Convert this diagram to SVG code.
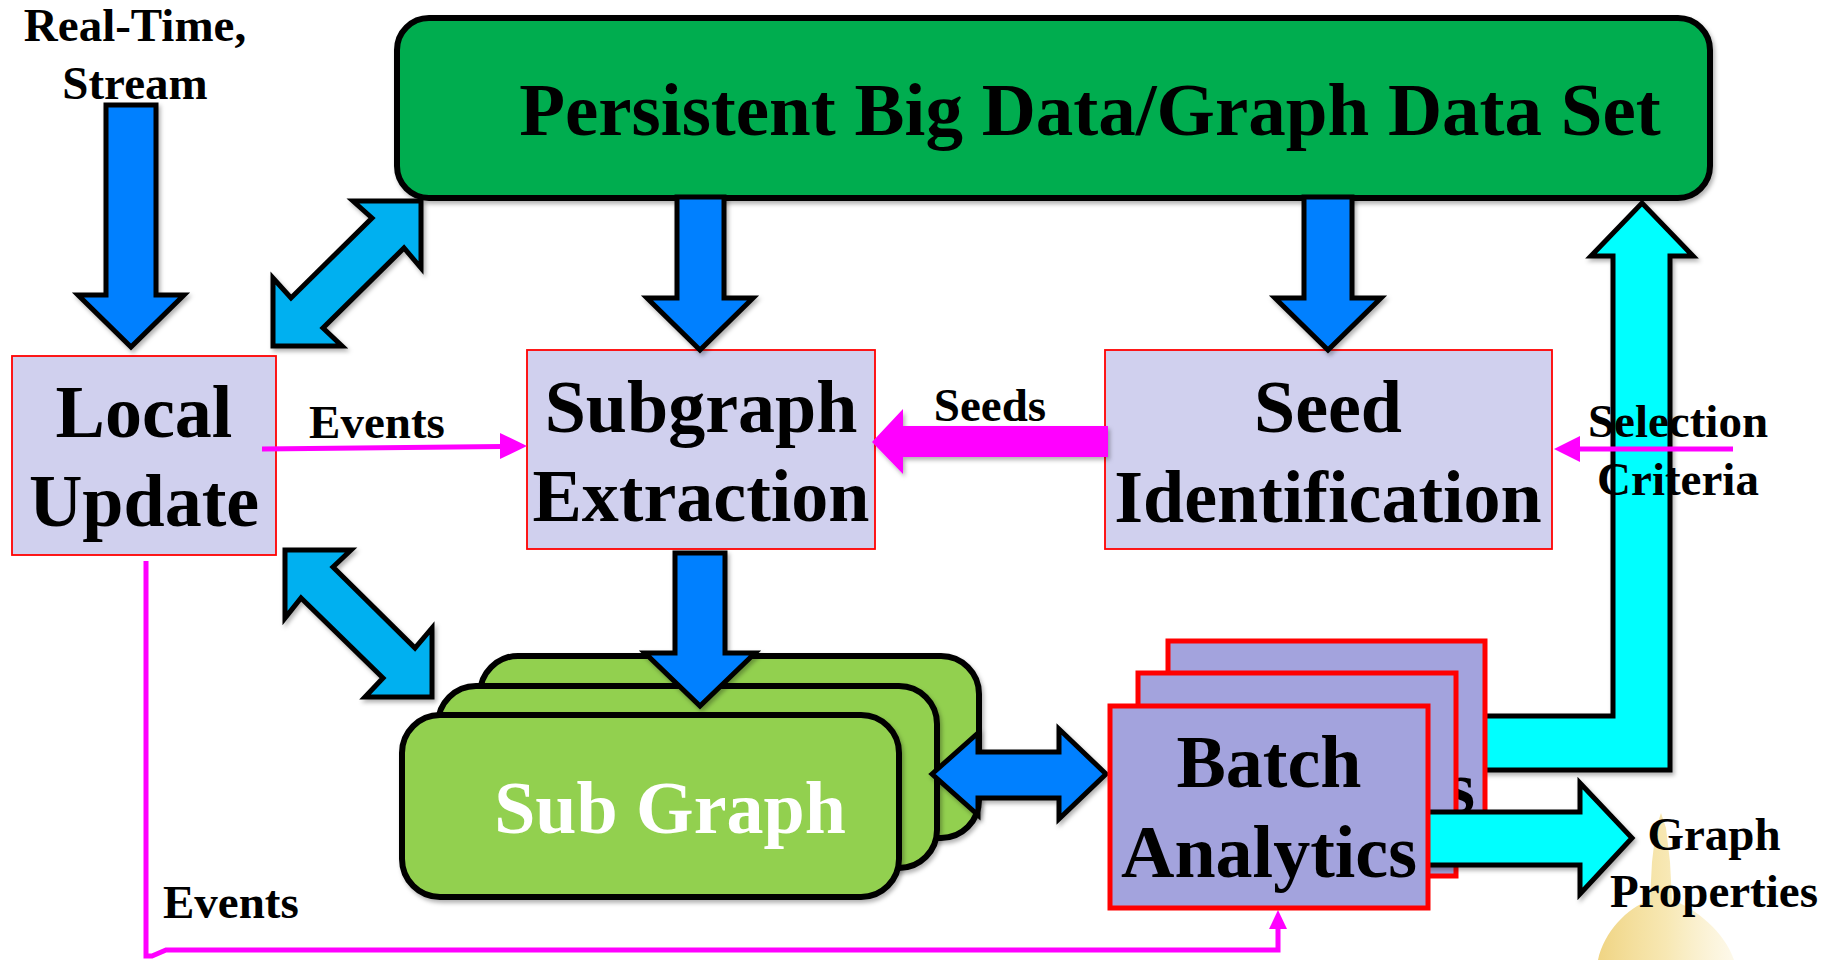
<svg xmlns="http://www.w3.org/2000/svg" width="1825" height="960" viewBox="0 0 1825 960">
<defs>
<filter id="sh" x="-10%" y="-10%" width="130%" height="130%">
<feDropShadow dx="2" dy="3" stdDeviation="2" flood-color="#000" flood-opacity="0.3"/>
</filter>
<linearGradient id="gold" x1="0" y1="0" x2="1" y2="0">
<stop offset="0" stop-color="#E9C24E" stop-opacity="0.7"/>
<stop offset="0.5" stop-color="#F2D880" stop-opacity="0.6"/>
<stop offset="1" stop-color="#FBF1D0" stop-opacity="0.45"/>
</linearGradient>
<clipPath id="backclip">
<rect x="1428" y="641" width="60" height="170"/>
</clipPath>
</defs>
<style>
text{font-family:"Liberation Serif","Times New Roman",serif;font-weight:bold;fill:#000}
.big{font-size:74px;text-anchor:middle}
.sm{font-size:47px}
.mid{text-anchor:middle}
.lav{fill:#D0D0EE;stroke:#FF0000;stroke-width:1.8}
.bat{fill:#A3A3DD;stroke:#FF0000;stroke-width:5}
.sg{fill:#92D050;stroke:#000;stroke-width:6}
.blue{fill:#0080FF;stroke:#000;stroke-width:5;stroke-linejoin:miter;filter:url(#sh)}
.lblue{fill:#00B0F0;stroke:#000;stroke-width:5;filter:url(#sh)}
.cyan{fill:#00FFFF;stroke:#000;stroke-width:5;filter:url(#sh)}
.mag{fill:none;stroke:#FF00FF;stroke-width:5}
.magf{fill:#FF00FF}
</style>

<path d="M1598,960 C1604,932 1627,908 1650,900 L1652,862 L1656,828 L1661,813 L1666,828 L1670,862 L1672,900 C1695,908 1725,932 1734,960 Z" fill="url(#gold)"/>

<g id="persistent">
<rect x="397" y="18" width="1313" height="180" rx="32" fill="#00AD4F" stroke="#000" stroke-width="6" filter="url(#sh)"/>
<text x="1090" y="135" style="font-size:75px;text-anchor:middle">Persistent Big Data/Graph Data Set</text>
</g>

<g id="stream-label">
<text class="sm mid" x="135" y="41">Real-Time,</text>
<text class="sm mid" x="135" y="99">Stream</text>
</g>

<g id="local-update">
<rect class="lav" x="12" y="356" width="264" height="199"/>
<text class="big" x="144" y="437">Local</text>
<text class="big" x="144" y="526">Update</text>
</g>

<g id="subgraph-extraction">
<rect class="lav" x="527" y="350" width="348" height="199"/>
<text class="big" x="701" y="432">Subgraph</text>
<text class="big" x="701" y="521">Extraction</text>
</g>

<g id="seed-identification">
<rect class="lav" x="1105" y="350" width="447" height="199"/>
<text class="big" x="1328" y="432">Seed</text>
<text class="big" x="1328" y="522">Identification</text>
</g>

<g id="sub-graph">
<rect class="sg" x="480" y="656" width="499" height="182" rx="38" filter="url(#sh)"/>
<rect class="sg" x="438" y="686" width="499" height="182" rx="38" filter="url(#sh)"/>
</g>

<g id="feedback-arrow">
<polygon class="cyan" points="1470,716 1613,716 1613,256 1591,256 1642,203 1693,256 1670,256 1670,770 1470,770"/>
</g>

<g id="batch-analytics">
<rect class="bat" x="1168" y="641" width="317" height="203"/>
<text class="big" x="1327" y="813" clip-path="url(#backclip)">Analytics</text>
<rect class="bat" x="1138" y="673" width="318" height="203"/>
</g>

<g id="connectors">
<polygon class="blue" points="106,105 156,105 156,295 184,295 131,347 78,295 106,295"/>
<polygon class="blue" points="677,197 724,197 724,298 753,298 700,350 647,298 677,298"/>
<polygon class="blue" points="1304,197 1352,197 1352,298 1381,298 1328,350 1275,298 1304,298"/>
<polygon class="blue" points="675,553 725,553 725,653 755,653 700,706 645,653 675,653"/>
<polygon class="lblue" points="421,201 353,201 372,218 291,298 273,278 273,346 342,346 323,328 404,248 421,268"/>
<polygon class="lblue" points="285,550 351,550 333,567 415,648 432,628 432,697 365,697 383,678 301,598 285,618"/>
<polygon class="blue" points="932,774 978,733 978,752 1059,752 1059,729 1106,774 1059,819 1059,798 978,798 978,815"/>
<polygon class="cyan" points="1420,812 1580,812 1580,783 1632,838 1580,894 1580,865 1420,865"/>
<polygon class="magf" points="1108,426 903,426 903,409 872,442 903,474 903,457 1108,457" filter="url(#sh)"/>
<path class="mag" d="M262,449 L502,446.5"/>
<polygon class="magf" points="527,446 500,433 500,459"/>
<path class="mag" d="M1733,449 L1578,449"/>
<polygon class="magf" points="1554,449 1580,436 1580,462"/>
<path class="mag" d="M146,561 L146,956 L152,956 L166,950 L1278,950 L1278,926"/>
<polygon class="magf" points="1278,910 1287,929 1269,929"/>
</g>

<g id="sub-graph-front">
<rect class="sg" x="402" y="715" width="497" height="182" rx="38" filter="url(#sh)"/>
<text x="670" y="833" style="font-size:74px;text-anchor:middle;fill:#FFFFFF">Sub Graph</text>
</g>

<g id="batch-front">
<rect class="bat" x="1110" y="706" width="318" height="202"/>
<text class="big" x="1269" y="787">Batch</text>
<text class="big" x="1269" y="877">Analytics</text>
</g>

<g id="labels">
<text class="sm mid" x="990" y="421">Seeds</text>
<text class="sm mid" x="377" y="438">Events</text>
<text class="sm" x="163" y="918">Events</text>
<text class="sm mid" x="1678" y="437">Selection</text>
<text class="sm mid" x="1678" y="495">Criteria</text>
<text class="sm mid" x="1714" y="850">Graph</text>
<text class="sm mid" x="1714" y="907">Properties</text>
</g>
</svg>
